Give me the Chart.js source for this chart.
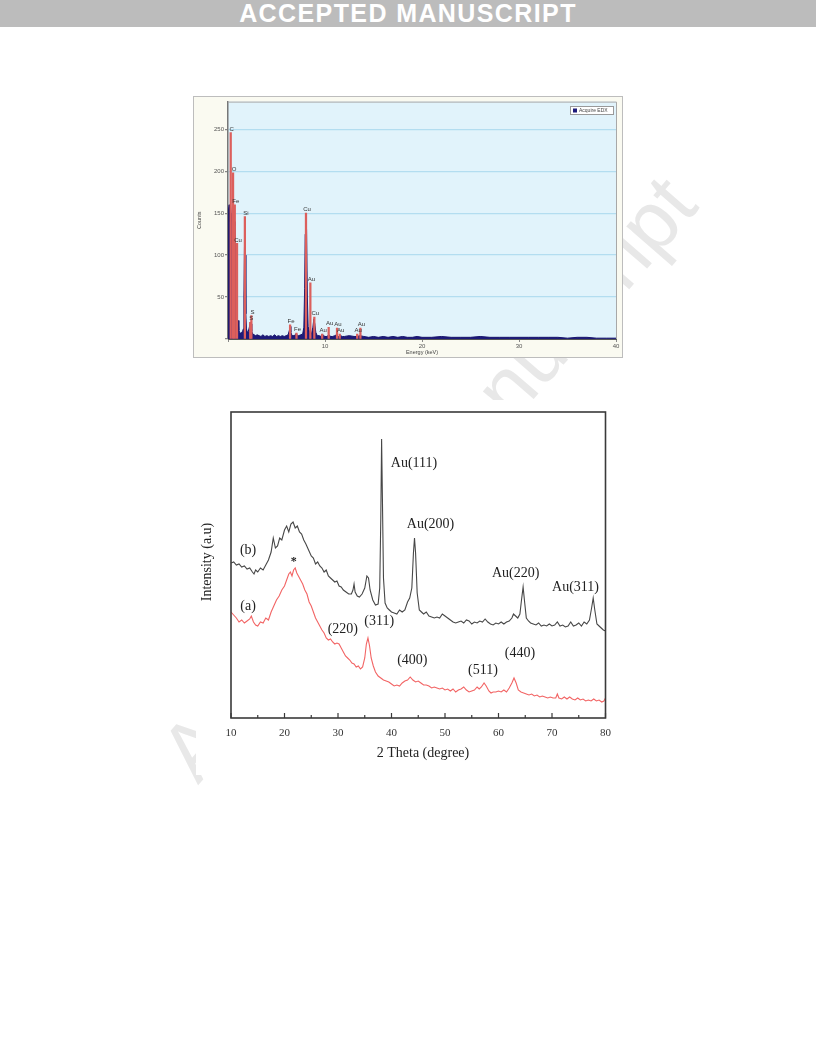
<!DOCTYPE html>
<html>
<head>
<meta charset="utf-8">
<script src="https://cdn.jsdelivr.net/npm/chart.js@4.4.1/dist/chart.umd.min.js"></script>
<style>
  body { margin:0; width:816px; height:1056px; background:#fff; position:relative; overflow:hidden; font-family:"Liberation Sans", Arial, sans-serif; }
  #banner { position:absolute; left:0; top:0; width:816px; height:27px; background:#bcbcbc; color:#fff;
            font-weight:bold; font-size:25px; line-height:27px; text-align:center; letter-spacing:1.4px; }
  #watermark { position:absolute; left:428px; top:478px; transform:translate(-50%,-50%) rotate(-49deg);
               white-space:nowrap; font-size:82px; line-height:1; color:#e8e8e8; }
  #edx { position:absolute; left:194px; top:97px; outline:1px solid #bdbdbd; background:#fafaf1; }
  #xrd { position:absolute; left:196px; top:400px; background:#fff; }
</style>
</head>
<body>
<div id="banner">ACCEPTED MANUSCRIPT</div>
<div id="watermark">Accepted Manuscript</div>
<canvas id="edx" width="428" height="260"></canvas>
<canvas id="xrd" width="424" height="375"></canvas>

<script>
// ---- EDX spectrum (energy in keV, counts) ----
const edxEnergy = [0.00,0.04,0.08,0.12,0.16,0.20,0.26,0.32,0.40,0.48,0.56,0.64,0.72,0.80,0.86,0.92,0.98,1.05,1.12,1.20,1.30,1.40,1.50,1.58,1.64,1.70,1.74,1.78,1.84,1.90,2.00,2.10,2.20,2.30,2.38,2.45,2.55,2.70,2.85,3.00,
  3.2,3.4,3.6,3.8,4.0,4.2,4.4,4.6,4.8,5.0,5.2,5.4,5.6,5.8,6.0,6.2,6.32,6.40,6.48,6.6,6.8,6.95,7.05,7.15,7.3,7.5,7.7,7.82,7.90,7.96,8.02,8.10,8.18,8.26,8.4,8.5,8.6,8.75,8.85,8.95,9.05,9.2,9.4,9.6,9.72,9.85,
  10.0,10.2,10.4,10.6,10.8,11.0,11.2,11.4,11.6,11.8,12.0,12.5,13.0,13.3,13.6,14.0,14.5,15,15.5,16,16.5,17,17.5,18,18.5,19,19.5,20,21,22,23,24,25,26,27,28,29,30,31,32,33,34,35,36,37,38,39,40];
const edxCounts = [0,30,155,160,140,150,158,150,140,150,145,135,140,90,70,30,18,22,10,8,7,8,9,12,50,110,145,100,30,12,8,9,14,20,18,9,6,5,4,5,
  4,3,5,3,4,3,4,3,5,3,4,3,4,3,4,5,10,15,8,4,4,5,7,4,4,5,6,14,60,125,148,130,50,15,8,6,6,14,24,18,8,4,4,3,6,4,
  3,3,5,3,3,4,5,3,4,3,3,4,3,3,4,3,2,3,2,3,2,3,2,3,2,2,3,2,2,3,2,2,2,3,2,2,2,2,2,2,2,2,1,2,2,1,1,1];
const edxXTicks = [0, 10, 20, 30, 40];
const edxYTicks = [0, 50, 100, 150, 200, 250];

// element markers
const peakLabels = ["C","O","Fe","Cu","Si","S","S","Fe","Fe","Cu","Au","Cu","Au","Au","Au","Au","Au","Au"];
const peakEnergy = [0.28,0.52,0.70,0.93,1.74,2.29,2.41,6.40,7.06,8.04,8.49,8.90,9.71,10.38,11.24,11.52,13.32,13.65];
const peakCounts = [246,198,160,114,146,20,28,17,7,150,67,26,6,14,13,6,6,13];

// ---- XRD patterns (2 theta in degree, intensity a.u.) ----
const thetaB = [10.0,10.5,11.0,11.5,12.0,12.5,13.0,13.5,14.0,14.3,14.6,15.0,15.5,16.0,16.5,17.0,17.5,17.9,18.3,18.7,19.1,19.5,20.0,20.4,20.8,21.2,21.6,22.0,22.4,22.8,23.2,23.6,24.0,24.5,25.0,25.4,25.8,26.2,26.6,27.0,27.4,27.8,28.2,28.6,29.0,29.4,29.8,30.2,30.6,31.0,31.5,32.0,32.5,32.8,33.0,33.2,33.6,34.0,34.5,35.0,35.4,35.7,36.0,36.5,37.0,37.5,37.8,38.0,38.15,38.3,38.5,38.8,39.2,39.6,40.0,40.5,41.0,41.5,42.0,42.5,43.0,43.4,43.8,44.1,44.3,44.5,44.8,45.2,45.6,46.0,46.5,47.0,47.5,48.0,48.5,49.0,49.5,50.0,50.5,51.0,51.5,52.0,52.5,53.0,53.5,54.0,54.5,55.0,55.5,56.0,56.5,57.0,57.5,58.0,58.5,59.0,59.5,60.0,60.5,61.0,61.5,62.0,62.5,62.8,63.2,63.6,64.0,64.3,64.6,64.9,65.2,65.6,66.0,66.5,67.0,67.5,68.0,68.5,69.0,69.5,70.0,70.5,71.0,71.5,72.0,72.5,73.0,73.5,74.0,74.5,75.0,75.5,76.0,76.5,77.0,77.4,77.7,78.0,78.4,78.8,79.2,79.6,80.0];
const intensityB = [155,156,153,154,151,152,149,150,146,144,148,146,150,148,153,158,166,180,170,172,180,178,188,192,186,194,196,190,192,186,184,178,174,168,162,160,154,156,152,150,146,148,142,140,138,136,137,132,131,128,126,124,124,128,134,126,122,121,124,130,142,140,128,118,113,114,130,200,279,220,140,115,110,108,106,105,104,108,106,108,116,120,130,165,180,165,125,108,106,104,106,102,101,100,101,100,104,102,100,98,96,95,96,97,95,98,97,94,96,95,97,96,99,96,94,93,95,94,96,94,96,97,100,104,102,100,104,118,131,115,100,97,95,94,93,95,92,93,92,94,92,93,96,92,93,91,92,96,92,93,95,92,96,94,98,110,120,108,94,92,90,88,87];

const thetaA = [10.0,10.5,11.0,11.5,12.0,12.5,13.0,13.5,13.8,14.2,14.6,15.0,15.5,16.0,16.5,17.0,17.5,18.0,18.5,19.0,19.5,20.0,20.4,20.8,21.1,21.4,21.7,22.0,22.3,22.6,23.0,23.4,23.8,24.2,24.6,25.0,25.4,25.8,26.2,26.6,27.0,27.4,27.8,28.2,28.6,29.0,29.4,29.8,30.2,30.6,31.0,31.4,31.8,32.2,32.6,33.0,33.4,33.8,34.2,34.6,35.0,35.3,35.6,35.9,36.2,36.6,37.0,37.5,38.0,38.5,39.0,39.5,40.0,40.5,41.0,41.5,42.0,42.5,43.0,43.5,44.0,44.5,45.0,45.5,46.0,46.5,47.0,47.5,48.0,48.5,49.0,49.5,50.0,50.5,51.0,51.5,52.0,52.5,53.0,53.5,54.0,54.5,55.0,55.5,56.0,56.4,56.8,57.3,57.7,58.2,58.6,59.0,59.5,60.0,60.5,61.0,61.5,62.0,62.5,62.9,63.3,63.7,64.2,64.7,65.2,65.7,66.2,66.7,67.2,67.7,68.2,68.7,69.2,69.7,70.2,70.7,71.0,71.3,71.8,72.3,72.8,73.3,73.8,74.3,74.8,75.3,75.8,76.3,76.8,77.3,77.8,78.3,78.8,79.3,79.7,80.0];
const intensityA = [106,103,100,96,98,95,97,99,102,96,93,92,96,95,100,98,106,112,118,122,128,132,138,144,146,142,148,150,145,142,138,134,128,124,116,112,106,100,96,92,88,85,80,78,79,76,74,75,74,70,66,62,60,58,55,54,51,52,49,51,60,74,80,72,60,52,46,42,40,38,37,36,34,32,33,32,35,37,38,41,38,36,37,35,33,33,32,30,31,30,29,30,28,29,27,29,26,28,29,31,28,26,27,28,31,29,31,35,32,27,25,26,26,27,26,28,26,30,35,40,35,28,26,25,24,23,24,22,23,21,22,21,20,21,20,20,24,20,19,21,19,21,19,18,20,18,19,17,18,17,19,17,18,16,17,20];
const xrdXTicks = [10, 20, 30, 40, 50, 60, 70, 80];

// peak annotations of the XRD figure (text, 2theta, intensity)
const xrdNoteText = ["Au(111)","Au(200)","Au(220)","Au(311)","(b)","(a)","*","(220)","(311)","(400)","(511)","(440)"];
const xrdNoteX = [44.2,47.3,63.2,74.4,13.2,13.2,21.75,30.9,37.7,43.9,57.1,64.0];
const xrdNoteY = [255,194,145,131,168,112,156,89,97,58,48,65];

function pts(xs, ys) {
  return xs.map((x, i) => ({ x: x, y: ys[i] }));
}
function fixedTicks(list) {
  return s => { s.ticks = list.map(v => ({ value: v })); };
}

// ---------- EDX chart ----------
const edxDecor = {
  id: "edxDecor",
  beforeDraw(chart) {
    const { ctx, chartArea: a } = chart;
    ctx.save();
    ctx.fillStyle = "#e1f3fb";
    ctx.fillRect(a.left, a.top, a.right - a.left, a.bottom - a.top);
    ctx.restore();
  },
  afterDraw(chart) {
    const { ctx, chartArea: a } = chart;
    const xs = chart.scales.x, ys = chart.scales.y;
    ctx.save();
    // frame of the plot
    ctx.strokeStyle = "#a8a8a8";
    ctx.lineWidth = 1;
    ctx.beginPath();
    ctx.moveTo(a.left, a.top + 0.5);
    ctx.lineTo(a.right + 0.5, a.top + 0.5);
    ctx.lineTo(a.right + 0.5, a.bottom);
    ctx.stroke();
    // element labels
    ctx.font = "6px 'Liberation Sans'";
    ctx.fillStyle = "#333";
    ctx.textAlign = "center";
    ctx.textBaseline = "bottom";
    for (let i = 0; i < peakLabels.length; i++) {
      ctx.fillText(peakLabels[i], xs.getPixelForValue(peakEnergy[i]) + 1, ys.getPixelForValue(peakCounts[i]) - 0.5);
    }
    // legend box
    ctx.fillStyle = "#fff";
    ctx.fillRect(376.5, 9.5, 43, 8);
    ctx.strokeStyle = "#999";
    ctx.strokeRect(376.5, 9.5, 43, 8);
    ctx.fillStyle = "#1d1a7a";
    ctx.fillRect(379, 11.5, 4, 4);
    ctx.fillStyle = "#444";
    ctx.font = "5px 'Liberation Sans'";
    ctx.textAlign = "left";
    ctx.textBaseline = "middle";
    ctx.fillText("Acquire EDX", 385, 13.7);
    ctx.restore();
  }
};

new Chart(document.getElementById("edx"), {
  type: "line",
  data: {
    datasets: [
      {
        type: "bar",
        data: pts(peakEnergy, peakCounts),
        backgroundColor: "#dc5f5c",
        borderWidth: 0,
        barThickness: 1.6
      },
      {
        data: pts(edxEnergy, edxCounts),
        borderColor: "#16136a",
        backgroundColor: "#1d1a7a",
        borderWidth: 1,
        pointRadius: 0,
        fill: "origin",
        tension: 0
      }
    ]
  },
  options: {
    responsive: false,
    animation: false,
    events: [],
    layout: { padding: { top: 4, right: 6, left: 0, bottom: 0 } },
    plugins: { legend: { display: false }, tooltip: { enabled: false } },
    scales: {
      x: {
        type: "linear", min: 0, max: 40, offset: false,
        afterBuildTicks: fixedTicks(edxXTicks),
        afterFit: s => { s.height = 18; },
        ticks: { autoSkip: false, maxRotation: 0, padding: 1, color: "#555",
                 font: { family: "Liberation Sans", size: 6 },
                 callback: v => (v === 0 ? "" : v) },
        grid: { offset: false, drawOnChartArea: false, tickLength: 3, tickColor: "#888" },
        border: { color: "#555", width: 1 },
        title: { display: true, text: "Energy (keV)", color: "#444",
                 font: { family: "Liberation Sans", size: 5.5 }, padding: { top: 0, bottom: 1 } }
      },
      y: {
        type: "linear", min: 0, max: 283,
        afterBuildTicks: fixedTicks(edxYTicks),
        afterFit: s => { s.width = 34; },
        ticks: { autoSkip: false, padding: 1, color: "#555",
                 font: { family: "Liberation Sans", size: 6 },
                 callback: v => (v === 0 ? "" : v) },
        grid: { color: c => (c.tick.value === 0 ? "rgba(0,0,0,0)" : "#b3ddf0"),
                lineWidth: 1.3, tickLength: 3, tickColor: "#888" },
        border: { color: "#777", width: 1.5 },
        title: { display: true, text: "Counts", color: "#444",
                 font: { family: "Liberation Sans", size: 5.5 }, padding: { top: 2, bottom: 0 } }
      }
    }
  },
  plugins: [edxDecor]
});

// ---------- XRD chart ----------
const xrdDecor = {
  id: "xrdDecor",
  afterDraw(chart) {
    const { ctx, chartArea: a } = chart;
    const xs = chart.scales.x, ys = chart.scales.y;
    ctx.save();
    // frame
    ctx.strokeStyle = "#3a3a3a";
    ctx.lineWidth = 1.6;
    ctx.strokeRect(a.left, a.top, a.right - a.left, a.bottom - a.top);
    // inward ticks on the bottom axis (major every 10, minor every 5)
    ctx.lineWidth = 1.2;
    ctx.beginPath();
    for (let v = 10; v <= 80; v += 5) {
      const px = xs.getPixelForValue(v);
      const len = v % 10 === 0 ? 5 : 3;
      ctx.moveTo(px, a.bottom);
      ctx.lineTo(px, a.bottom - len);
    }
    ctx.stroke();
    // annotations
    ctx.fillStyle = "#222";
    ctx.textAlign = "center";
    ctx.textBaseline = "middle";
    for (let i = 0; i < xrdNoteText.length; i++) {
      ctx.font = xrdNoteText[i] === "*" ? "bold 12px 'Liberation Serif'" : "14px 'Liberation Serif'";
      ctx.fillText(xrdNoteText[i], xs.getPixelForValue(xrdNoteX[i]), ys.getPixelForValue(xrdNoteY[i]));
    }
    // axis titles
    ctx.font = "14px 'Liberation Serif'";
    ctx.fillText("2 Theta (degree)", 227, 353);
    ctx.translate(11, 162);
    ctx.rotate(-Math.PI / 2);
    ctx.fillText("Intensity (a.u)", 0, 0);
    ctx.restore();
  }
};

new Chart(document.getElementById("xrd"), {
  type: "line",
  data: {
    datasets: [
      { data: pts(thetaB, intensityB), borderColor: "#474747", borderWidth: 1.1, pointRadius: 0, tension: 0, fill: false },
      { data: pts(thetaA, intensityA), borderColor: "#f26464", borderWidth: 1.1, pointRadius: 0, tension: 0, fill: false }
    ]
  },
  options: {
    responsive: false,
    animation: false,
    events: [],
    layout: { padding: { top: 12, right: 12, left: 35, bottom: 0 } },
    plugins: { legend: { display: false }, tooltip: { enabled: false } },
    scales: {
      x: {
        type: "linear", min: 10, max: 80, offset: false,
        afterBuildTicks: fixedTicks(xrdXTicks),
        afterFit: s => { s.height = 57; },
        ticks: { autoSkip: false, maxRotation: 0, padding: 9, color: "#333",
                 font: { family: "Liberation Serif", size: 11 } },
        grid: { display: false, drawTicks: false },
        border: { display: false }
      },
      y: { display: false, min: 0, max: 306 }
    }
  },
  plugins: [xrdDecor]
});
</script>
</body>
</html>
